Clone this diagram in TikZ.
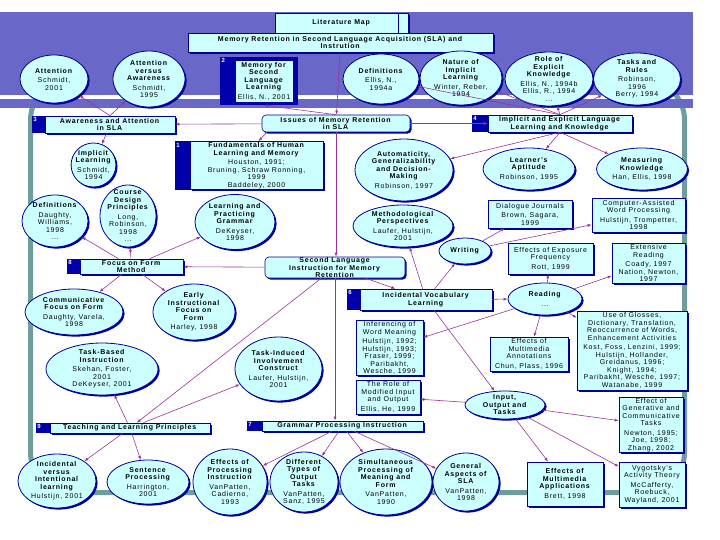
\documentclass[tikz,border=0pt]{standalone}
\usepackage{fontspec}
\setmainfont{Liberation Sans}[LetterSpace=11]
\usetikzlibrary{arrows.meta,shapes.geometric,shadows}
\definecolor{bandblue}{HTML}{6967C8}
\definecolor{framecol}{HTML}{6F9C9C}
\definecolor{boxcyan}{HTML}{CCFFFF}
\definecolor{edgenavy}{HTML}{000099}
\definecolor{stripblue}{HTML}{0000AA}
\definecolor{linkpurple}{HTML}{993399}
\newcommand{\hd}[1]{\textbf{#1}}

\begin{document}
\begin{tikzpicture}[
    x=1pt, y=-1pt,
    font=\fontsize{7}{7.5}\selectfont,
    >={Latex[length=4pt,width=3pt]},
    navyshadow/.style={drop shadow={shadow xshift=1.6pt, shadow yshift=-1.6pt, fill=edgenavy, opacity=1}},
    box/.style={draw=edgenavy, line width=0.6pt, fill=boxcyan, navyshadow, align=center, inner sep=1pt},
    hub/.style={box, rounded corners=4pt},
    idea/.style={ellipse, draw=edgenavy, line width=0.8pt, fill=boxcyan, navyshadow, align=center, inner xsep=-2pt, inner ysep=-5pt},
    numtag/.style={text=white, font=\fontsize{6}{6}\selectfont\bfseries, anchor=north west, inner sep=1.5pt},
    link/.style={->, draw=linkpurple, line width=0.6pt},
    dotsnote/.style={font=\fontsize{6}{6}\selectfont, text=gray}
]
\useasboundingbox (0,0) rectangle (720,540);
\draw[framecol, line width=5pt, rounded corners=40pt] (30.5,80) rectangle (684.5,492.5);
\fill[bandblue] (0,12) rectangle (693,95);
\fill[bandblue] (0,99) rectangle (693,108);

\node[box, minimum width=133pt, minimum height=20pt] (litmap) at (341.5,23) {\hd{Literature Map}};
\draw[edgenavy, line width=0.6pt] ([xshift=-10pt]litmap.north east) -- ([xshift=-10pt]litmap.south east);
\node[box, minimum width=305pt, minimum height=19pt] (title) at (340.5,42.5) {\hd{Memory Retention in Second Language Acquisition (SLA) and}\\\hd{Instrution}};

\node[idea, minimum width=68pt, minimum height=48pt] (att) at (54,79) {\hd{Attention}\\[2pt]Schmidt,\\2001};
\node[idea, minimum width=72pt, minimum height=56pt] (attaw) at (149,79) {\hd{Attention}\\\hd{versus}\\\hd{Awareness}\\[2pt]Schmidt,\\1995};
\fill[stripblue] (220,57) rectangle (298,105);
\node[box, minimum width=58pt, minimum height=42pt] (mem2) at (264,81) {\hd{Memory for}\\\hd{Second}\\\hd{Language}\\\hd{Learning}\\[2pt]Ellis, N., 2001};
\node[numtag] (num2) at (220,57) {2};
\node[idea, minimum width=76pt, minimum height=50pt] (def1) at (381,79) {\hd{Definitions}\\[2pt]Ellis, N.,\\1994a};
\node[idea, minimum width=82pt, minimum height=54pt] (nature) at (461,78) {\hd{Nature of}\\\hd{Implicit}\\\hd{Learning}\\[2pt]Winter, Reber,\\1994};
\node[idea, minimum width=88pt, minimum height=54pt] (role) at (549,79) {\hd{Role of}\\\hd{Explicit}\\\hd{Knowledge}\\[2pt]Ellis, N., 1994b\\Ellis, R., 1994\\...};
\node[idea, minimum width=87pt, minimum height=52pt] (tasks) at (637,79) {\hd{Tasks and}\\\hd{Rules}\\[2pt]Robinson,\\1996\\Berry, 1994};

\node[box, minimum width=130pt, minimum height=17pt] (awareness) at (110,124.5) {\hd{Awareness and Attention}\\\hd{in SLA}};
\fill[stripblue] (awareness.north west) rectangle ([xshift=-13pt]awareness.south west);
\node[numtag] (num3) at ([xshift=-13pt]awareness.north west) {3};
\node[dotsnote] (awdots) at (109,137) {...};
\node[hub, minimum width=148pt, minimum height=17pt] (issues) at (336,123.5) {\hd{Issues of Memory Retention}\\\hd{in SLA}};
\node[box, minimum width=144pt, minimum height=17pt] (implexpl) at (560,123.5) {\hd{Implicit and Explicit Language}\\\hd{Learning and Knowledge}};
\fill[stripblue] (implexpl.north west) rectangle ([xshift=-16pt]implexpl.south west);
\node[numtag] (num4) at ([xshift=-16pt]implexpl.north west) {4};

\node[box, minimum width=133pt, minimum height=47pt] (fundamentals) at (256.5,165.5) {\hd{Fundamentals of Human}\\\hd{Learning and Memory}\\[2pt]Houston, 1991;\\Bruning, Schraw Ronning,\\1999\\Baddeley, 2000};
\fill[stripblue] (fundamentals.north west) rectangle ([xshift=-15pt]fundamentals.south west);
\node[numtag] (num1) at ([xshift=-15pt]fundamentals.north west) {1};
\node[idea, minimum width=43pt, minimum height=44pt] (implicit) at (93.5,165) {\hd{Implicit}\\\hd{Learning}\\[2pt]Schmidt,\\1994};
\node[idea, minimum width=98pt, minimum height=62pt] (auto) at (404,170) {\hd{Automaticity,}\\\hd{Generalizability}\\\hd{and Decision-}\\\hd{Making}\\[2pt]Robinson, 1997};
\node[idea, minimum width=92pt, minimum height=42pt] (aptitude) at (529,169) {\hd{Learner's}\\\hd{Aptitude}\\[2pt]Robinson, 1995};
\node[idea, minimum width=91pt, minimum height=42pt] (measure) at (642,169) {\hd{Measuring}\\\hd{Knowledge}\\[2pt]Han, Ellis, 1998};

\node[idea, minimum width=66pt, minimum height=52pt] (defs) at (55,221) {\hd{Definitions}\\[2pt]Daughty,\\Williams,\\1998\\...};
\node[idea, minimum width=56pt, minimum height=62pt] (course) at (128,216) {\hd{Course}\\\hd{Design}\\\hd{Principles}\\[2pt]Long,\\Robinson,\\1998\\...};
\node[idea, minimum width=80pt, minimum height=55pt] (practice) at (235,222) {\hd{Learning and}\\\hd{Practicing}\\\hd{Grammar}\\[2pt]DeKeyser,\\1998};
\node[idea, minimum width=100pt, minimum height=42pt] (method) at (403,226) {\hd{Methodological}\\\hd{Perspectives}\\[2pt]Laufer, Hulstijn,\\2001};
\node[box, minimum width=84pt, minimum height=28pt] (journals) at (530,214) {Dialogue Journals\\[2pt]Brown, Sagara,\\1999};
\node[box, minimum width=93pt, minimum height=34pt] (wordproc) at (638.5,215) {Computer-Assisted\\Word Processing\\[2pt]Hulstijn, Trompetter,\\1998};
\node[idea, minimum width=52pt, minimum height=26pt] (writing) at (465,251) {\hd{Writing}};
\node[box, minimum width=85pt, minimum height=31pt] (exposure) at (550.5,258.5) {Effects of Exposure\\Frequency\\[2pt]Rott, 1999};
\node[box, minimum width=73pt, minimum height=40pt] (extensive) at (648.5,263) {Extensive\\Reading\\[2pt]Coady, 1997\\Nation, Newton,\\1997};

\node[box, minimum width=103pt, minimum height=15pt, inner ysep=0pt] (focusform) at (131.5,266.5) {\hd{Focus on Form}\\\hd{Method}};
\fill[stripblue] (focusform.north west) rectangle ([xshift=-13pt]focusform.south west);
\node[numtag] (num8) at ([xshift=-13pt]focusform.north west) {8};
\node[hub, minimum width=140pt, minimum height=21pt, inner ysep=0pt] (instruction) at (335,267.5) {\hd{Second Language}\\\hd{Instruction for Memory}\\\hd{Retention}};
\node[idea, minimum width=74pt, minimum height=32pt] (reading) at (545,299) {\hd{Reading}\\[2pt]...};
\node[box, minimum width=132pt, minimum height=21pt] (incvocab) at (426,299.5) {\hd{Incidental Vocabulary}\\\hd{Learning}};
\fill[stripblue] (incvocab.north west) rectangle ([xshift=-13pt]incvocab.south west);
\node[numtag] (num6) at ([xshift=-13pt]incvocab.north west) {6};

\node[idea, minimum width=98pt, minimum height=46pt] (commfocus) at (74,312) {\hd{Communicative}\\\hd{Focus on Form}\\[2pt]Daughty, Varela,\\1998};
\node[idea, minimum width=82pt, minimum height=56pt] (early) at (194,312) {\hd{Early}\\\hd{Instructional}\\\hd{Focus on}\\\hd{Form}\\[2pt]Harley, 1998};
\node[idea, minimum width=112pt, minimum height=52pt] (taskbased) at (102,369) {\hd{Task-Based}\\\hd{Instruction}\\[2pt]Skehan, Foster,\\2001\\DeKeyser, 2001};
\node[idea, minimum width=87pt, minimum height=64pt] (taskinduced) at (278.5,369) {\hd{Task-Induced}\\\hd{Involvement}\\\hd{Construct}\\[2pt]Laufer, Hulstijn,\\2001};
\node[box, minimum width=67pt, minimum height=54pt] (inference) at (389.5,348) {Inferencing of\\Word Meaning\\[2pt]Hulstijn, 1992;\\Hulstijn, 1993;\\Fraser, 1999;\\Paribakht,\\Wesche, 1999};
\node[box, minimum width=78pt, minimum height=34pt] (annotations) at (529,354) {Effects of\\Multimedia\\Annotations\\[2pt]Chun, Plass, 1996};
\node[box, minimum width=110pt, minimum height=79pt] (glosses) at (632,350.5) {Use of Glosses,\\Dictionary, Translation,\\Reoccurrence of Words,\\Enhancement Activities\\[2pt]Kost, Foss, Lenzini, 1999;\\Hulstijn, Hollander,\\Greidanus, 1996;\\Knight, 1994;\\Paribakht, Wesche, 1997;\\Watanabe, 1999};
\node[box, minimum width=64pt, minimum height=34pt] (modified) at (388,397) {The Role of\\Modified Input\\and Output\\[2pt]Ellis, He, 1999};
\node[idea, minimum width=80pt, minimum height=28pt] (iotasks) at (505,405) {\hd{Input,}\\\hd{Output and}\\\hd{Tasks}};
\node[box, minimum width=64pt, minimum height=54pt] (generative) at (651,425) {Effect of\\Generative and\\Communicative\\Tasks\\[2pt]Newton, 1995;\\Joe, 1998;\\Zhang, 2002};
\node[box, minimum width=66pt, minimum height=45pt] (vygotsky) at (652,484.5) {Vygotsky's\\Activity Theory\\[2pt]McCafferty,\\Roebuck,\\Wayland, 2001};
\node[box, minimum width=76pt, minimum height=44pt] (applications) at (565,484) {\hd{Effects of}\\\hd{Multimedia}\\\hd{Applications}\\[2pt]Brett, 1998};

\node[box, minimum width=160pt, minimum height=10pt, inner ysep=0pt] (teaching) at (130,428) {\hd{Teaching and Learning Principles}};
\fill[stripblue] (teaching.north west) rectangle ([xshift=-14pt]teaching.south west);
\node[numtag] (num9) at ([xshift=-14pt]teaching.north west) {9};
\node[box, minimum width=161pt, minimum height=10pt, inner ysep=0pt] (grammar) at (342.5,426) {\hd{Grammar Processing Instruction}};
\fill[stripblue] (grammar.north west) rectangle ([xshift=-15pt]grammar.south west);
\node[numtag] (num7) at ([xshift=-15pt]grammar.north west) {7};

\node[idea, minimum width=78pt, minimum height=54pt] (incidental) at (57,481) {\hd{Incidental}\\\hd{versus}\\\hd{Intentional}\\\hd{learning}\\[2pt]Hulstijn, 2001};
\node[idea, minimum width=82pt, minimum height=44pt] (sentence) at (148,482) {\hd{Sentence}\\\hd{Processing}\\[2pt]Harrington,\\2001};
\node[idea, minimum width=74pt, minimum height=66pt] (procinstr) at (230,482) {\hd{Effects of}\\\hd{Processing}\\\hd{Instruction}\\[2pt]VanPatten,\\Cadierno,\\1993};
\node[idea, minimum width=68pt, minimum height=60pt] (outtasks) at (304,482) {\hd{Different}\\\hd{Types of}\\\hd{Output}\\\hd{Tasks}\\[2pt]VanPatten,\\Sanz, 1995};
\node[idea, minimum width=92pt, minimum height=66pt] (simult) at (386,482) {\hd{Simultaneous}\\\hd{Processing of}\\\hd{Meaning and}\\\hd{Form}\\[2pt]VanPatten,\\1990};
\node[idea, minimum width=66pt, minimum height=58pt] (general) at (466,482) {\hd{General}\\\hd{Aspects of}\\\hd{SLA}\\[2pt]VanPatten,\\1998};

\draw[link] (title) -- (issues);
\draw[link] (issues.north) -- ([yshift=-3pt]mem2.south);
\draw[link] (awareness.north) -- (att);
\draw[link] (awareness.north) -- (attaw);
\draw[link] (issues) -- (awareness);
\draw[link] ([xshift=5pt]issues.south west) -- ([xshift=2pt]fundamentals.north);
\draw[link] (issues) -- (implexpl);
\draw[link] (issues.south) -- (issues.south |- instruction.north);
\draw[link] (awareness) -- (implicit);
\foreach \t in {def1,nature,role,tasks} \draw[link] (implexpl.north) -- (\t);
\foreach \t in {auto,aptitude,measure} \draw[link] (implexpl.south) -- (\t);
\foreach \t in {focusform,incvocab,teaching} \draw[link] (instruction) -- (\t);
\draw[link] (instruction.south) -- (instruction.south |- grammar.north);
\foreach \t in {defs,course,practice,commfocus,early} \draw[link] (focusform) -- (\t);
\foreach \t in {writing,method,reading,iotasks} \draw[link] (incvocab) -- (\t);
\foreach \t in {journals,wordproc} \draw[link] (writing) -- (\t);
\foreach \t in {exposure,extensive,glosses,annotations,inference} \draw[link] (reading) -- (\t);
\foreach \t in {modified,generative,vygotsky,applications} \draw[link] (iotasks) -- (\t);
\foreach \t in {taskbased,taskinduced,incidental,sentence} \draw[link] (teaching) -- (\t);
\foreach \t in {procinstr,outtasks,simult,general} \draw[link] (grammar) -- (\t);
\end{tikzpicture}
\end{document}
